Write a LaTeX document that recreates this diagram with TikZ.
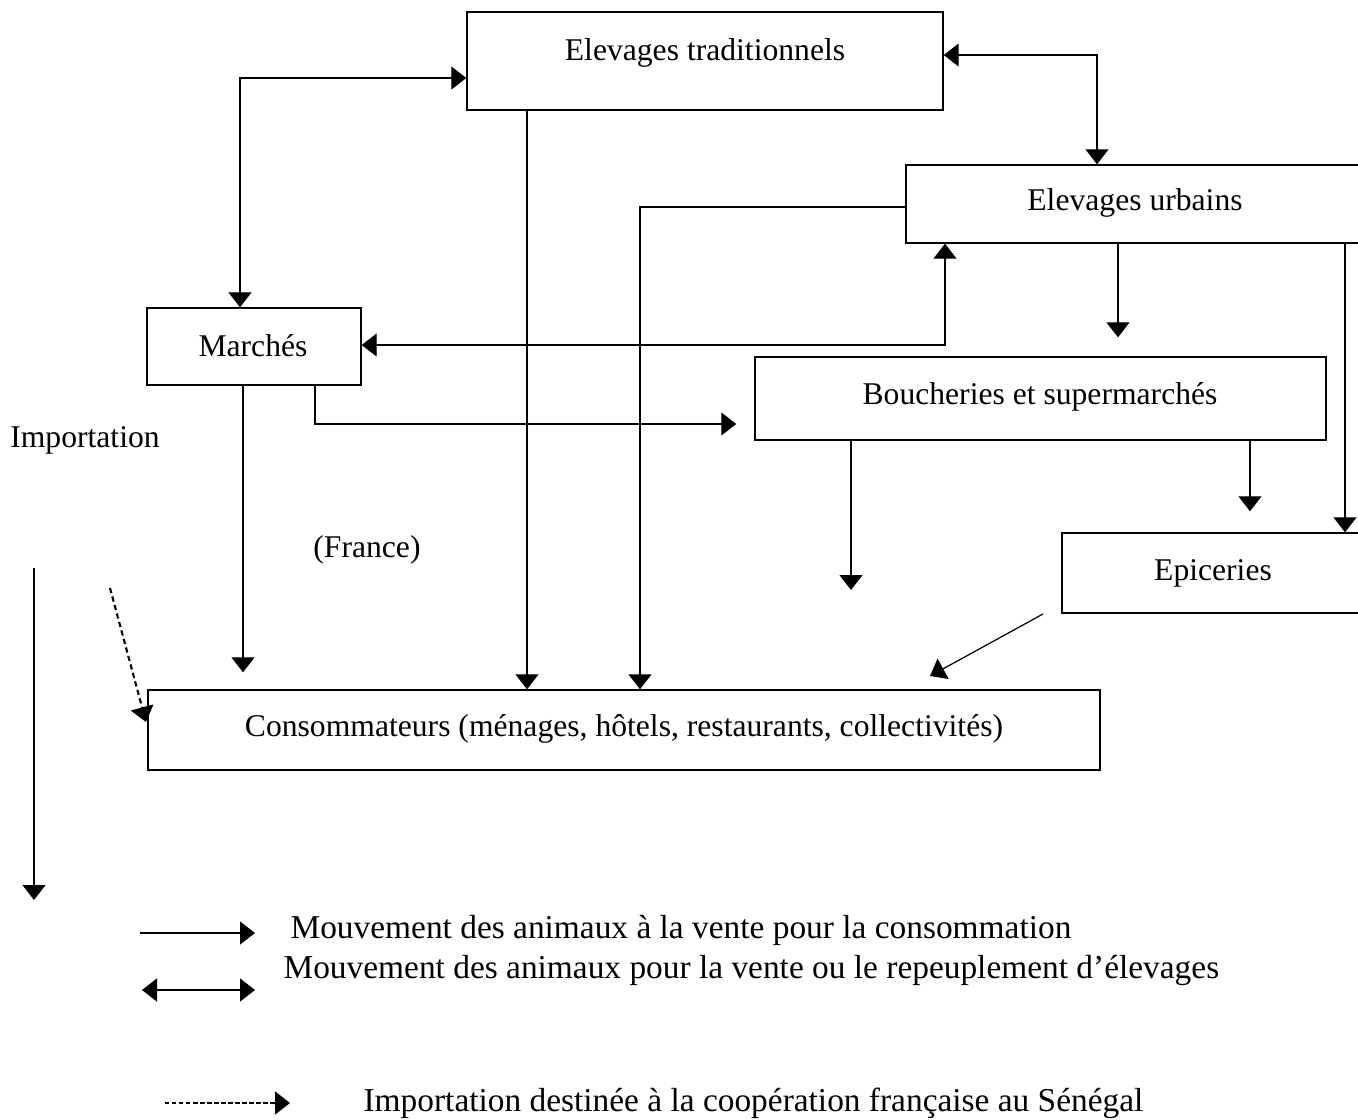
\documentclass[tikz,border=0pt]{standalone}
\usepackage{fontspec}
\setmainfont{Liberation Serif}
\usetikzlibrary{arrows.meta}
\begin{document}
\begin{tikzpicture}[x=0.2mm,y=-0.2mm,
  >={Triangle[length=3mm,width=4.6mm]},
  line width=0.7pt,
  box/.style={draw, line width=0.8pt, inner sep=0pt},
  lbl/.style={font=\fontsize{18}{21}\selectfont, inner sep=0pt},
  leg/.style={font=\fontsize{19}{22}\selectfont, inner sep=0pt, anchor=west}]
\clip (0,0) rectangle (1358,1120);
\fill[white] (0,0) rectangle (1358,1120);
% boxes
\node[box, minimum width=95.2mm, minimum height=19.6mm] (et) at (705,61) {};
\node[box, minimum width=94.8mm, minimum height=15.6mm] (eu) at (1143,204) {};
\node[box, minimum width=42.8mm, minimum height=15.4mm] (mar) at (254,346.5) {};
\node[box, minimum width=114.2mm, minimum height=16.6mm] (bou) at (1040.5,398.5) {};
\node[box, minimum width=63.6mm, minimum height=16mm] (epi) at (1221,573) {};
\node[box, minimum width=190.4mm, minimum height=16mm] (cons) at (624,730) {};
% labels
\node[lbl] (tet) at (705,53) {Elevages traditionnels};
\node[lbl] (teu) at (1135,203) {Elevages urbains};
\node[lbl] (tmar) at (253,346) {Marchés};
\node[lbl] (tbou) at (1040,397) {Boucheries et supermarchés};
\node[lbl] (tepi) at (1213,573) {Epiceries};
\node[lbl] (tcons) at (624,729) {Consommateurs (ménages, hôtels, restaurants, collectivités)};
\node[lbl] (timp) at (85,440) {Importation};
\node[lbl] (tfr) at (367,550) {(France)};
% guide coordinates
\coordinate (x240) at (240,0);
\coordinate (x243) at (243,0);
\coordinate (x315) at (315,0);
\coordinate (x527) at (527,0);
\coordinate (x640) at (640,0);
\coordinate (x851) at (851,0);
\coordinate (x945) at (945,0);
\coordinate (x1097) at (1097,0);
\coordinate (x1118) at (1118,0);
\coordinate (x1250) at (1250,0);
\coordinate (x1345) at (1345,0);
\coordinate (y55) at (0,55);
\coordinate (y78) at (0,78);
\coordinate (y207) at (0,207);
\coordinate (y345) at (0,345);
\coordinate (y424) at (0,424);
% connectors
\draw[<->] (mar.north -| x240) |- (et.west |- y78);
\draw[<->] (et.east |- y55) -| (eu.north -| x1097);
\draw[->] (et.south -| x527) -- (cons.north -| x527);
\draw[->] (eu.west |- y207) -| (cons.north -| x640);
\draw[<->] (mar.east |- y345) -| (eu.south -| x945);
\draw[->, shorten >=3.6mm] (mar.south -| x315) |- (bou.west |- y424);
\draw[->, shorten >=3.4mm] (mar.south -| x243) -- (cons.north -| x243);
\draw[->, shorten >=3.8mm] (eu.south -| x1118) -- (bou.north -| x1118);
\draw[->] (eu.south -| x1345) -- (epi.north -| x1345);
\coordinate (b10) at (851,590);
\draw[->] (bou.south -| x851) -- (b10);
\draw[->, shorten >=4.2mm] (bou.south -| x1250) -- (epi.north -| x1250);
\coordinate (e1) at (1043,614);
\coordinate (e2) at (930,676);
\draw[->] (e1) -- (e2);
\coordinate (i1) at (34,568);
\coordinate (i2) at (34,900);
\draw[->] (i1) -- (i2);
\coordinate (d1) at (110,588);
\coordinate (d2) at (146,722);
\draw[->, line width=1.2pt, dash pattern=on 3pt off 2pt] (d1) -- (d2);
% legend
\coordinate (l1a) at (140,933);
\coordinate (l1b) at (255,933);
\draw[->] (l1a) -- (l1b);
\coordinate (l2a) at (142,990);
\coordinate (l2b) at (255,990);
\draw[<->] (l2a) -- (l2b);
\coordinate (l3a) at (165,1103);
\coordinate (l3b) at (290,1103);
\draw[->, line width=0.9pt, dash pattern=on 2.5pt off 1.5pt] (l3a) -- (l3b);
\node[leg] (g1) at (290,930) {Mouvement des animaux à la vente pour la consommation};
\node[leg] (g2) at (283,970) {Mouvement des animaux pour la vente ou le repeuplement d’élevages};
\node[leg] (g3) at (363,1103) {Importation destinée à la coopération française au Sénégal};
\end{tikzpicture}
\end{document}
